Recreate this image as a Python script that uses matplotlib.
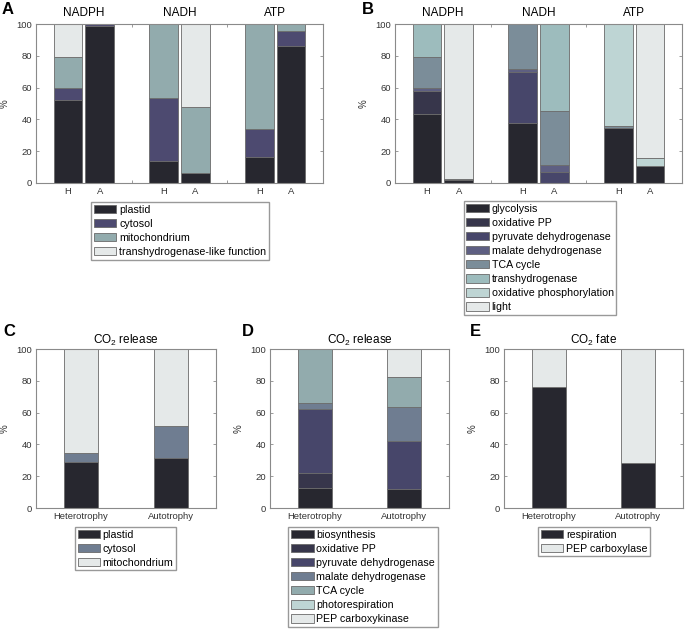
import numpy as np
import matplotlib
matplotlib.use("Agg")
import matplotlib.pyplot as plt

plt.rcParams['font.family'] = ['Liberation Sans', 'DejaVu Sans']
plt.rcParams['mathtext.fontset'] = 'custom'
plt.rcParams['mathtext.rm'] = 'Liberation Sans'

# ---- data (percent) ----
groups = ['NADPH', 'NADH', 'ATP']
ha_labels = ['H', 'A', '', 'H', 'A', '', 'H', 'A']
cond_labels = ['Heterotrophy', 'Autotrophy']

# panel A: bars NADPH H, NADPH A, NADH H, NADH A, ATP H, ATP A
a_plastid = [52.5, 99.0, 14.0, 6.5, 16.5, 86.0]
a_cytosol = [7.0, 1.0, 39.5, 0.0, 17.5, 9.5]
a_mito = [20.0, 0.0, 46.5, 41.5, 66.0, 4.5]
a_trans = [20.5, 0.0, 0.0, 52.0, 0.0, 0.0]
a_names = ['plastid', 'cytosol', 'mitochondrium', 'transhydrogenase-like function']

# panel B
b_glycolysis = [43.5, 2.0, 38.0, 0.0, 34.3, 11.0]
b_oxpp = [14.5, 0.5, 0.0, 0.0, 0.0, 0.0]
b_pdh = [0.0, 0.0, 31.5, 7.0, 0.0, 0.0]
b_mdh = [1.5, 0.0, 2.5, 4.5, 0.0, 0.0]
b_tca = [20.0, 0.0, 28.0, 34.0, 1.5, 0.0]
b_transhyd = [20.5, 0.0, 0.0, 54.5, 0.0, 0.0]
b_oxphos = [0.0, 0.0, 0.0, 0.0, 64.2, 4.5]
b_light = [0.0, 97.5, 0.0, 0.0, 0.0, 84.5]
b_names = ['glycolysis', 'oxidative PP', 'pyruvate dehydrogenase',
           'malate dehydrogenase', 'TCA cycle', 'transhydrogenase',
           'oxidative phosphorylation', 'light']

# panel C
c_plastid = [29.0, 31.5]
c_cytosol = [5.5, 20.0]
c_mito = [65.5, 48.5]
c_names = ['plastid', 'cytosol', 'mitochondrium']

# panel D
d_bio = [12.5, 12.0]
d_oxpp = [9.5, 0.0]
d_pdh = [40.5, 30.0]
d_mdh = [3.5, 21.5]
d_tca = [34.0, 19.0]
d_photo = [0.0, 0.0]
d_pepck = [0.0, 17.5]
d_names = ['biosynthesis', 'oxidative PP', 'pyruvate dehydrogenase',
           'malate dehydrogenase', 'TCA cycle', 'photorespiration',
           'PEP carboxykinase']

# panel E
e_resp = [76.0, 28.0]
e_pepc = [24.0, 72.0]
e_names = ['respiration', 'PEP carboxylase']

# colours
dark = '#27272f'
oxpp_c = '#37364b'
pdh_c = '#47466a'
mdh_c = '#5e5f82'
tca_c = '#7b8d99'
trh_c = '#9dbcbd'
oxph_c = '#bed5d4'
light_c = '#e5e9e9'
cyto_a = '#4d4a70'
mito_c = '#92abad'
slate = '#6f7d91'

W, H = 685, 629
fig = plt.figure(figsize=(W / 100, H / 100), dpi=100)


def px_axes(x0, y0, x1, y1):
    return fig.add_axes([x0 / W, (H - y1) / H, (x1 - x0) / W, (y1 - y0) / H])


def style(ax):
    for s in ax.spines.values():
        s.set_color('#8a8a8a')
        s.set_linewidth(0.8)
    ax.tick_params(direction='in', length=2.5, width=0.6, color='#8a8a8a',
                   labelsize=6.8, labelcolor='#333333', top=True, right=True, pad=3)
    ax.set_ylim(0, 100)
    ax.set_yticks([0, 20, 40, 60, 80, 100])
    ax.set_ylabel('%', fontsize=7, color='#333333', labelpad=5)


def stack(ax, x, series, colors, width):
    bottom = np.zeros(len(x))
    handles = []
    for vals, col in zip(series, colors):
        h = ax.bar(x, vals, width, bottom=bottom, color=col,
                   edgecolor='#6a6a6a', linewidth=0.6, zorder=2)
        handles.append(h)
        bottom = bottom + np.array(vals)
    return handles


def legend(handles, names, cx, top):
    fig.legend(handles, names, loc='upper center',
               bbox_to_anchor=(cx / W, (H - top) / H), fontsize=7.7,
               fancybox=False, edgecolor='#999999', framealpha=1,
               handlelength=2.1, handleheight=0.85, handletextpad=0.25,
               labelspacing=0.38, borderpad=0.25, borderaxespad=0)


def letter(x, y, t):
    fig.text(x / W, (H - y) / H, t, fontsize=12, fontweight='bold', va='center')


# ---- panel A and B ----
xs = [1, 2, 4, 5, 7, 8]
for (x0, x1), series, colors, names, cx, ltop, let, lx in [
        ((36, 323), [a_plastid, a_cytosol, a_mito, a_trans],
         [dark, cyto_a, mito_c, light_c], a_names, 180, 202, 'A', 2),
        ((395, 682), [b_glycolysis, b_oxpp, b_pdh, b_mdh, b_tca, b_transhyd, b_oxphos, b_light],
         [dark, oxpp_c, pdh_c, mdh_c, tca_c, trh_c, oxph_c, light_c], b_names, 540, 201, 'B', 362)]:
    ax = px_axes(x0, 24, x1, 183)
    style(ax)
    hs = stack(ax, xs, series, colors, 0.9)
    ax.set_xlim(0, 9)
    ax.set_xticks(range(1, 9))
    ax.set_xticklabels(ha_labels)
    for i, g in enumerate(groups):
        ax.text(1.5 + 3 * i, 103, g, ha='center', va='bottom', fontsize=8.5)
    legend(hs, names, cx, ltop)
    letter(lx, 10, let)

# ---- panels C, D, E ----
for (x0, x1), series, colors, names, cx, title, let, lx in [
        ((36, 216), [c_plastid, c_cytosol, c_mito], [dark, slate, light_c],
         c_names, 125.5, r'CO$_2$ release', 'C', 3),
        ((270, 449), [d_bio, d_oxpp, d_pdh, d_mdh, d_tca, d_photo, d_pepck],
         [dark, oxpp_c, pdh_c, slate, mito_c, oxph_c, light_c],
         d_names, 363, r'CO$_2$ release', 'D', 242),
        ((504, 683), [e_resp, e_pepc], [dark, light_c],
         e_names, 594, r'CO$_2$ fate', 'E', 470)]:
    ax = px_axes(x0, 349, x1, 508)
    style(ax)
    hs = stack(ax, [1, 2], series, colors, 0.38)
    ax.set_xlim(0.5, 2.5)
    ax.set_xticks([1, 2])
    ax.set_xticklabels(cond_labels)
    ax.set_title(title, fontsize=8.5, pad=4)
    legend(hs, names, cx, 527)
    letter(lx, 331, let)

fig.savefig('out.png', dpi=100)
